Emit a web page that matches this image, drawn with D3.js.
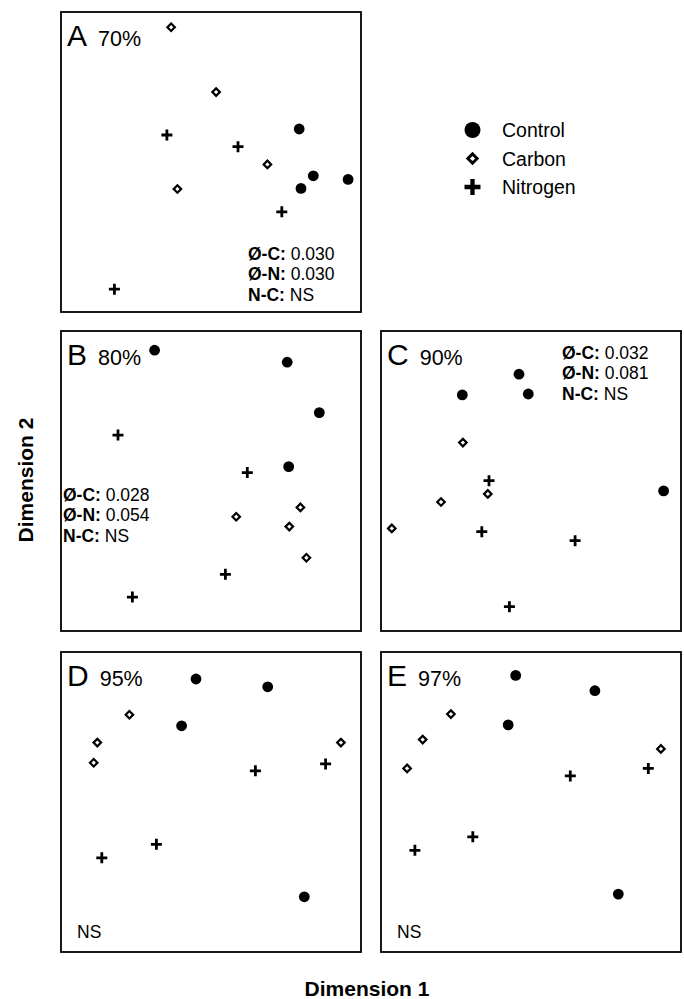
<!DOCTYPE html>
<html>
<head>
<meta charset="utf-8">
<script src="https://cdn.jsdelivr.net/npm/d3@7"></script>
<style>
  html, body { margin: 0; padding: 0; background: #fff; }
  svg { display: block; font-family: "Liberation Sans", Arial, Helvetica, sans-serif; }
</style>
</head>
<body>
<svg id="chart" width="684" height="999"></svg>
<script>
// ---- Data (NMDS scores, scaled 0–100 within each panel) ----
const panelIds = ["A", "B", "C", "D", "E"];
const panelPercents = ["70%", "80%", "90%", "95%", "97%"];
const groups = ["Control", "Carbon", "Nitrogen"];

const aControl  = [[79.4, 61.0], [84.1, 45.4], [80.0, 41.2], [95.7, 44.2]];
const aCarbon   = [[36.7, 94.9], [51.7, 73.3], [68.8, 49.2], [38.8, 41.0]];
const aNitrogen = [[35.3, 59.0], [59.0, 55.1], [73.6, 33.4], [17.8, 7.6]];

const bControl  = [[31.2, 93.6], [75.4, 89.6], [86.1, 72.8], [75.9, 54.8]];
const bCarbon   = [[79.8, 41.2], [58.4, 38.1], [76.1, 34.8], [81.8, 24.4]];
const bNitrogen = [[19.0, 65.3], [62.1, 52.8], [54.8, 18.9], [23.8, 11.3]];

const cControl  = [[46.0, 85.6], [49.1, 79.0], [27.1, 78.7], [94.2, 46.7]];
const cCarbon   = [[27.3, 62.8], [35.6, 45.7], [20.0, 43.0], [3.6, 34.2]];
const cNitrogen = [[36.0, 50.1], [33.6, 33.1], [64.7, 30.1], [42.8, 8.1]];

const dControl  = [[45.0, 91.0], [68.9, 88.4], [40.2, 75.4], [81.1, 18.4]];
const dCarbon   = [[22.8, 79.1], [12.1, 69.8], [10.9, 63.1], [93.3, 69.8]];
const dNitrogen = [[64.8, 60.4], [88.2, 62.7], [31.8, 35.9], [13.6, 31.4]];

const eControl  = [[44.9, 92.2], [71.3, 87.1], [42.4, 75.7], [79.1, 19.3]];
const eCarbon   = [[23.3, 79.3], [13.9, 70.8], [8.7, 61.2], [93.3, 67.7]];
const eNitrogen = [[63.1, 58.7], [89.1, 61.2], [30.6, 38.4], [11.3, 33.9]];

const aStats = [["Ø-C:", "0.030"], ["Ø-N:", "0.030"], ["N-C:", "NS"]];
const bStats = [["Ø-C:", "0.028"], ["Ø-N:", "0.054"], ["N-C:", "NS"]];
const cStats = [["Ø-C:", "0.032"], ["Ø-N:", "0.081"], ["N-C:", "NS"]];
const dStats = [["", "NS"]];
const eStats = [["", "NS"]];

// ---- Layout ----
const svg = d3.select("#chart");
const size = 300;
const layout = {
  A: {x: 61,  y: 12,  stats: aStats, sx: 248, sy: 260, data: [aControl, aCarbon, aNitrogen]},
  B: {x: 61,  y: 331, stats: bStats, sx: 63,  sy: 501, data: [bControl, bCarbon, bNitrogen]},
  C: {x: 381, y: 331, stats: cStats, sx: 562, sy: 359, data: [cControl, cCarbon, cNitrogen]},
  D: {x: 61,  y: 652, stats: dStats, sx: 77,  sy: 938, data: [dControl, dCarbon, dNitrogen]},
  E: {x: 381, y: 652, stats: eStats, sx: 397, sy: 938, data: [eControl, eCarbon, eNitrogen]}
};

const plusSymbol = {
  draw(ctx, s) {
    const h = Math.sqrt(s) / 2;
    ctx.moveTo(-h, 0); ctx.lineTo(h, 0);
    ctx.moveTo(0, -h); ctx.lineTo(0, h);
  }
};

const plotStyle   = {r: 5.4, side: 5.3, dStroke: 2.2, len: 11, pStroke: 2.8};
const legendStyle = {r: 8.0, side: 6.6, dStroke: 2.9, len: 16, pStroke: 4.3};

function drawMark(g, type, cx, cy, st) {
  if (type === 0) {
    g.append("circle").attr("cx", cx).attr("cy", cy).attr("r", st.r).attr("fill", "#000");
  } else if (type === 1) {
    g.append("path")
      .attr("d", d3.symbol(d3.symbolSquare, st.side * st.side)())
      .attr("transform", `translate(${cx},${cy}) rotate(45)`)
      .attr("fill", "#fff").attr("stroke", "#000").attr("stroke-width", st.dStroke);
  } else {
    g.append("path")
      .attr("d", d3.symbol(plusSymbol, st.len * st.len)())
      .attr("transform", `translate(${cx},${cy})`)
      .attr("fill", "none").attr("stroke", "#000").attr("stroke-width", st.pStroke);
  }
}

panelIds.forEach((id, i) => {
  const p = layout[id];
  const x = d3.scaleLinear().domain([0, 100]).range([p.x, p.x + size]);
  const y = d3.scaleLinear().domain([0, 100]).range([p.y + size, p.y]);
  const g = svg.append("g");

  g.append("rect")
    .attr("x", p.x).attr("y", p.y).attr("width", size).attr("height", size)
    .attr("fill", "none").attr("stroke", "#000").attr("stroke-width", 1.8);

  // panel title
  const t = g.append("text").attr("x", p.x + 6).attr("y", p.y + 34).attr("fill", "#000");
  t.append("tspan").attr("font-size", 30).text(id);
  t.append("tspan").attr("font-size", 21.5).attr("dx", 11).text(panelPercents[i]);

  // stats
  p.stats.forEach((row, k) => {
    const st = g.append("text").attr("x", p.sx).attr("y", p.sy + k * 20.3)
      .attr("font-size", 17.5).attr("fill", "#000");
    if (row[0]) {
      st.append("tspan").attr("font-weight", "bold").text(row[0]);
      st.append("tspan").text(" " + row[1]);
    } else {
      st.append("tspan").text(row[1]);
    }
  });

  // points
  p.data.forEach((series, type) => {
    series.forEach(d => drawMark(g, type, x(d[0]), y(d[1]), plotStyle));
  });
});

// ---- Legend ----
const legend = svg.append("g");
const legY = d3.scalePoint().domain(groups).range([130, 187]);
groups.forEach((name, k) => {
  drawMark(legend, k, 472.5, legY(name), legendStyle);
  legend.append("text").attr("x", 502).attr("y", legY(name) + 7)
    .attr("font-size", 19.5).attr("fill", "#000").text(name);
});

// ---- Axis titles ----
svg.append("text").attr("x", 367).attr("y", 996).attr("text-anchor", "middle")
  .attr("font-size", 21).attr("font-weight", "bold").text("Dimension 1");
svg.append("text").attr("transform", "translate(33,480) rotate(-90)").attr("text-anchor", "middle")
  .attr("font-size", 21).attr("font-weight", "bold").text("Dimension 2");
</script>
</body>
</html>
